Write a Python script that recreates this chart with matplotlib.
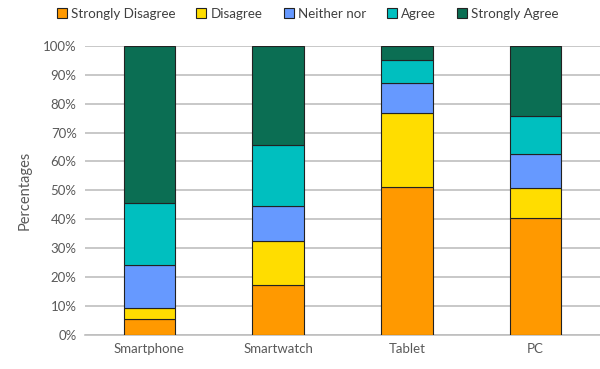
import matplotlib.pyplot as plt
import numpy as np

plt.rcParams['font.family'] = ['Lato', 'DejaVu Sans']

dispositivos = ['Smartphone', 'Smartwatch', 'Tablet', 'PC']
respostas = ['Strongly Disagree', 'Disagree', 'Neither nor', 'Agree', 'Strongly Agree']

# percentuais por resposta (um valor por dispositivo)
strongly_disagree = [5.5, 17.2, 51.3, 40.3]
disagree = [4.0, 15.4, 25.4, 10.4]
neither = [14.7, 12.0, 10.3, 11.8]
agree = [21.5, 21.0, 8.1, 13.3]
strongly_agree = [54.3, 34.4, 4.9, 24.2]

series = [strongly_disagree, disagree, neither, agree, strongly_agree]
cores = ['#FF9900', '#FFDD00', '#6699FF', '#00BFBF', '#0B6E53']

fig = plt.figure(figsize=(6, 3.69), dpi=100)
ax = fig.add_axes([0.1417, 0.0921, 0.858, 0.784])

x = np.arange(len(dispositivos))
base = np.zeros(len(dispositivos))
for nome, valores, cor in zip(respostas, series, cores):
    ax.bar(x, valores, bottom=base, width=0.4, color=cor, edgecolor='#222222',
           linewidth=0.8, label=nome, zorder=3)
    base += np.array(valores)

ax.set_xlim(-0.5, 3.5)
ax.set_ylim(0, 100)
ax.set_yticks(range(0, 101, 10))
ax.set_yticklabels([f'{v}%' for v in range(0, 101, 10)])
ax.set_xticks(x)
ax.set_xticklabels(dispositivos)
ax.tick_params(axis='both', length=0, colors='#595959', labelsize=9.5)
ax.tick_params(axis='y', pad=6)
ax.tick_params(axis='x', pad=6)
ax.yaxis.grid(True, color='#BFBFBF', linewidth=1.2, zorder=0)
for lado in ['top', 'right', 'left']:
    ax.spines[lado].set_visible(False)
ax.spines['bottom'].set_color('#BFBFBF')
ax.spines['bottom'].set_linewidth(1.2)

ax.set_ylabel('Percentages', color='#595959', fontsize=10.5, labelpad=8)

fig.legend(loc='upper center', bbox_to_anchor=(0.513, 1.012), ncol=5, frameon=False,
           fontsize=9.6, handlelength=0.75, handleheight=0.75, handletextpad=0.3,
           columnspacing=1.6, labelcolor='#404040')

fig.savefig('out.png', dpi=100)
